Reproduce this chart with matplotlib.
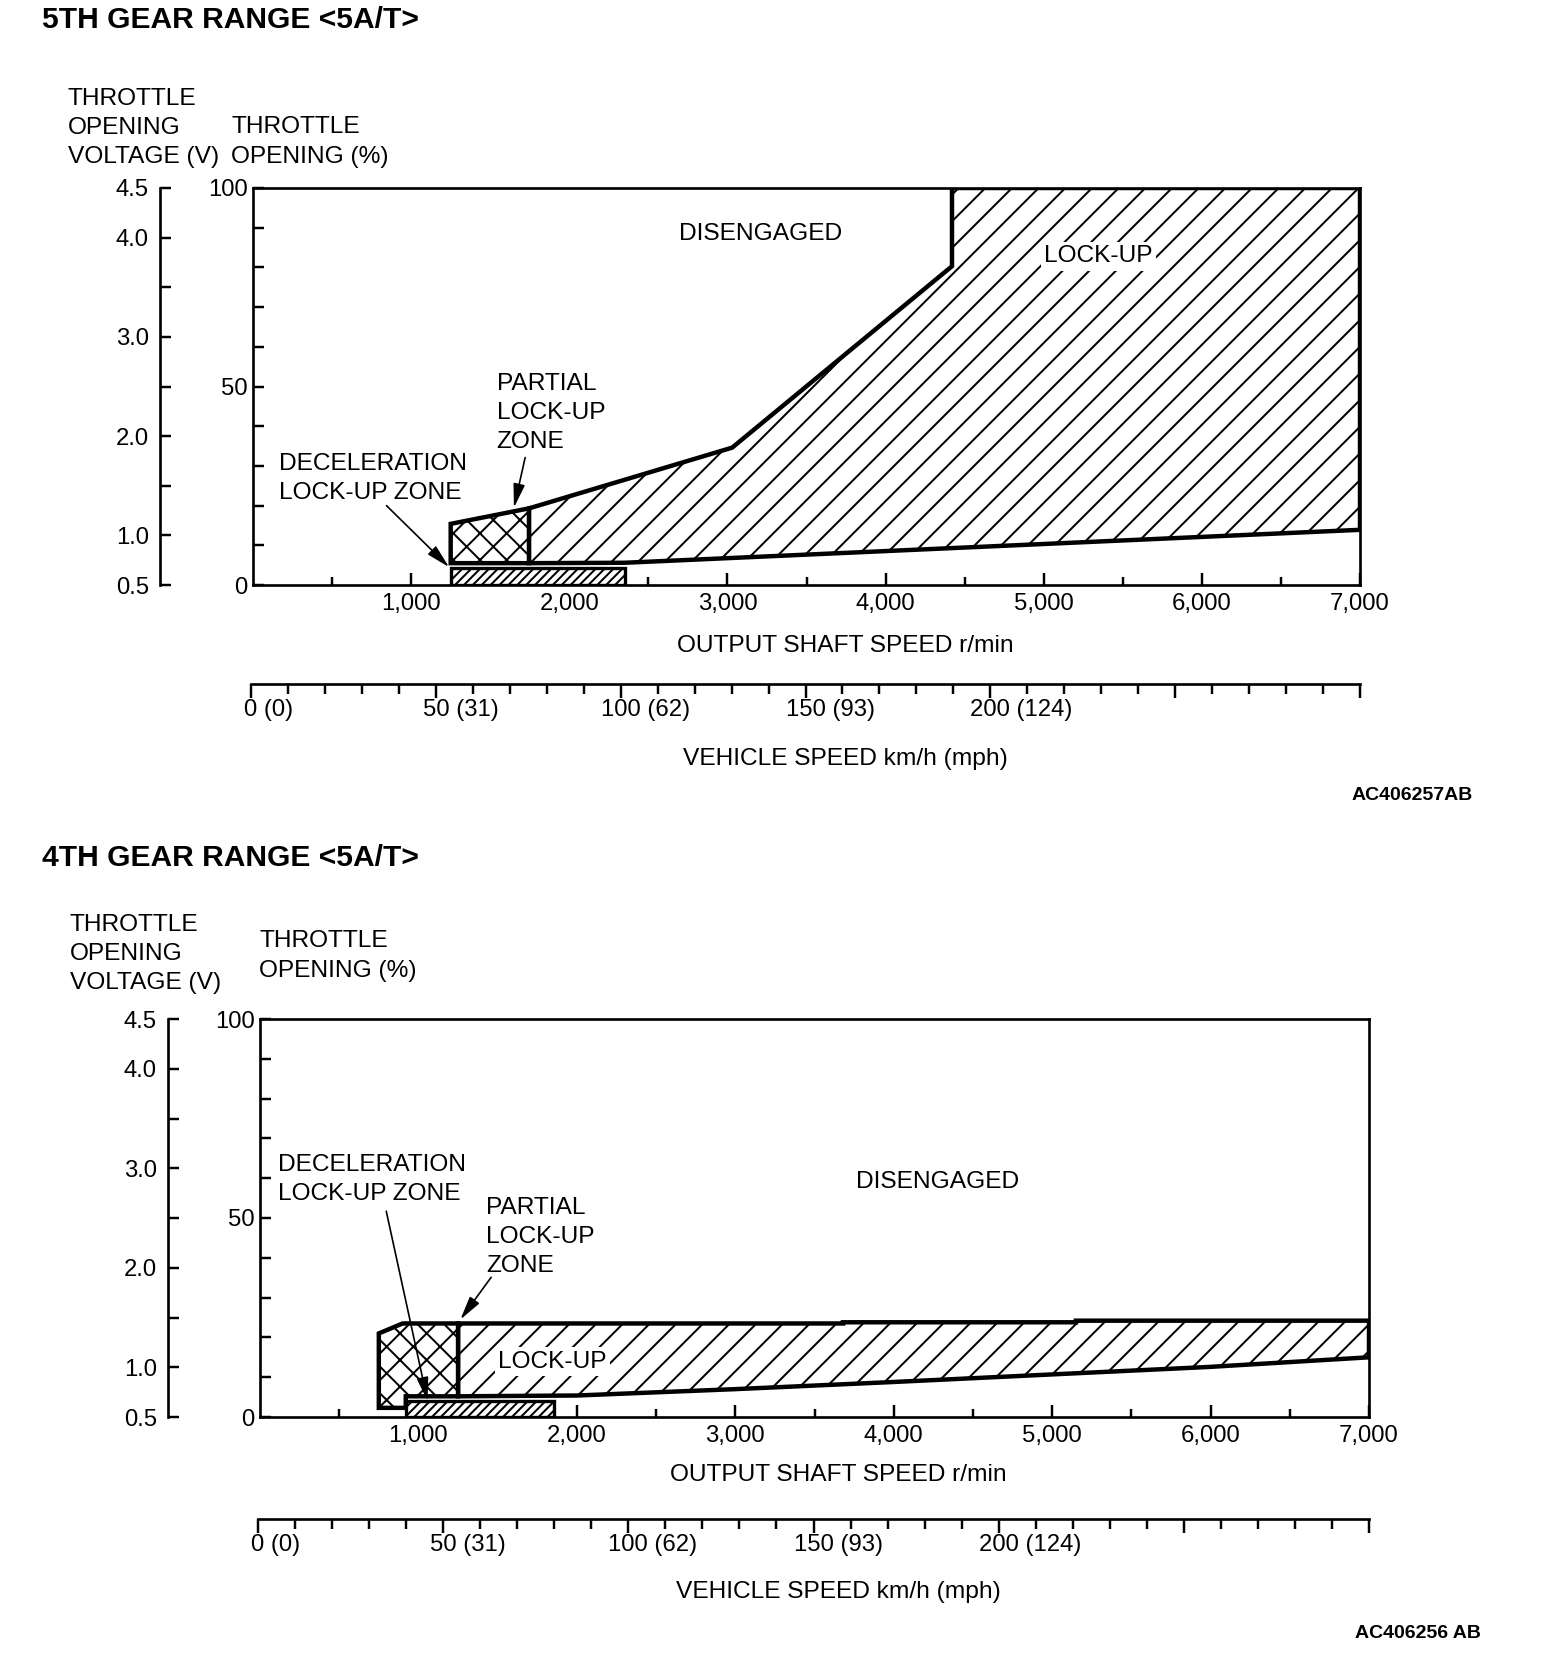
import matplotlib
matplotlib.use('Agg')
import matplotlib.pyplot as plt
from matplotlib.ticker import FixedLocator, FuncFormatter

plt.rcParams['font.family'] = ['Liberation Sans', 'DejaVu Sans']
plt.rcParams['hatch.linewidth'] = 1.8

W, H, DPI = 1568, 1662, 80
FS = 22
LS = 1.42

# ---- data (rpm, throttle %) ----
# 5th gear range
g5_lockup_rpm = [1745, 1745, 3030, 4420, 4420, 7000, 7000, 2350]
g5_lockup_pct = [5.5, 19.3, 34.6, 80.3, 100, 100, 13.9, 5.6]
g5_partial_rpm = [1250, 1250, 1745, 1745]
g5_partial_pct = [5.5, 15.4, 19.3, 5.5]
g5_decel_rpm = [1250, 1250, 2350, 2350]
g5_decel_pct = [0, 4.3, 4.3, 0]

# 4th gear range
g4_lockup_rpm = [1250, 1250, 3680, 3680, 5150, 5150, 7000, 7000, 6000, 5000, 4000, 3000, 2000]
g4_lockup_pct = [5.2, 23.5, 23.5, 23.8, 23.8, 24.2, 24.2, 15.0, 12.6, 10.7, 8.8, 7.0, 5.4]
g4_partial_rpm = [750, 750, 900, 1250, 1250, 920, 920]
g4_partial_pct = [2.3, 21.0, 23.5, 23.5, 5.2, 5.2, 2.3]
g4_decel_rpm = [920, 920, 1855, 1855]
g4_decel_pct = [0, 4.0, 4.0, 0]

# axis values
rpm_major = [1000, 2000, 3000, 4000, 5000, 6000, 7000]
rpm_minor = [500, 1500, 2500, 3500, 4500, 5500, 6500]
pct_major = [0, 50, 100]
pct_minor = [10, 20, 30, 40, 60, 70, 80, 90]
volt_major = [0.5, 1.0, 2.0, 3.0, 4.0, 4.5]
volt_minor = [1.5, 2.5, 3.5]
speed_kmh = [0, 50, 100, 150, 200]
speed_mph = [0, 31, 62, 93, 124]
speed_major = [0, 50, 100, 150, 200, 250, 300]
speed_minor = [v for v in range(10, 300, 10) if v % 50]

fig = plt.figure(figsize=(W / DPI, H / DPI), dpi=DPI)


def add_ax(l, t, r, b):
    return fig.add_axes([l / W, 1 - b / H, (r - l) / W, (b - t) / H])


def ftext(x, y, s, **kw):
    kw.setdefault('fontsize', FS)
    fig.text(x / W, 1 - y / H, s, **kw)


def draw_chart(box, volt_x, speed_y, title, title_y, code, code_xy,
               zones, labels, arrows, ylab_v, ylab_p, xlab, slab):
    l, t, r, b = box
    ax = add_ax(l, t, r, b)
    ax.set_xlim(0, 7000)
    ax.set_ylim(0, 100)
    for s in ax.spines.values():
        s.set_linewidth(2.4)
    ax.xaxis.set_major_locator(FixedLocator(rpm_major))
    ax.xaxis.set_minor_locator(FixedLocator(rpm_minor))
    ax.xaxis.set_major_formatter(FuncFormatter(lambda v, p: f'{int(v):,}'))
    ax.yaxis.set_major_locator(FixedLocator(pct_major))
    ax.yaxis.set_minor_locator(FixedLocator(pct_minor))
    ax.tick_params(which='both', direction='in', width=2.2, labelsize=21.5)
    ax.tick_params(axis='x', which='major', length=11, pad=7)
    ax.tick_params(axis='x', which='minor', length=7)
    ax.tick_params(axis='y', which='both', length=10, pad=5)

    (lr, lp), (pr, pp), (dr, dp) = zones
    ax.fill(lr, lp, facecolor='white', edgecolor='black', hatch='/', lw=4, zorder=2)
    ax.fill(pr, pp, facecolor='white', edgecolor='black', hatch='x', lw=4, zorder=3)
    ax.fill(dr, dp, facecolor='white', edgecolor='black', hatch='///', lw=3, zorder=4)

    for s, x, y, ha, boxed in labels:
        kw = dict(fontsize=FS, ha=ha, va='center', zorder=6, linespacing=LS)
        if boxed:
            kw['bbox'] = dict(facecolor='white', edgecolor='none', pad=3)
        ax.text(x, y, s, **kw)
    for (x0, y0), (x1, y1) in arrows:
        ax.annotate('', xy=(x1, y1), xytext=(x0, y0), zorder=7,
                    arrowprops=dict(arrowstyle='-|>,head_length=0.9,head_width=0.22',
                                    color='black', lw=1.5, mutation_scale=20,
                                    shrinkA=0, shrinkB=0))

    # voltage axis
    av = add_ax(volt_x, t, volt_x + 1, b)
    av.set_ylim(0.5, 4.5)
    av.patch.set_visible(False)
    for k in ['top', 'right', 'bottom']:
        av.spines[k].set_visible(False)
    av.spines['left'].set_linewidth(2.4)
    av.set_xticks([])
    av.yaxis.set_major_locator(FixedLocator(volt_major))
    av.yaxis.set_minor_locator(FixedLocator(volt_minor))
    av.yaxis.set_major_formatter(FuncFormatter(lambda v, p: f'{v:.1f}'))
    av.tick_params(which='both', direction='in', length=10, width=2.2,
                   labelsize=21.5, pad=10)

    # vehicle speed axis
    asp = add_ax(l - 2, speed_y - 1, r, speed_y)
    asp.set_xlim(0, 300)
    asp.patch.set_visible(False)
    for k in ['top', 'right', 'left']:
        asp.spines[k].set_visible(False)
    asp.spines['bottom'].set_linewidth(2.4)
    asp.set_yticks([])
    asp.xaxis.set_major_locator(FixedLocator(speed_major))
    asp.xaxis.set_minor_locator(FixedLocator(speed_minor))
    asp.tick_params(which='both', direction='out', width=2.2, labelbottom=False)
    asp.tick_params(which='major', length=13)
    asp.tick_params(which='minor', length=9)
    for kmh, mph in zip(speed_kmh, speed_mph):
        numw = len(str(kmh)) * 0.556 * 21.5
        asp.annotate(f'{kmh} ({mph})', xy=(kmh, 0), xycoords=('data', 'axes fraction'),
                     xytext=(-numw / 2, -23), textcoords='offset points',
                     ha='left', va='center', fontsize=21.5)

    ftext(42, title_y, title, fontweight='bold', fontsize=27, va='center')
    ftext(code_xy[0], code_xy[1], code, fontweight='bold', fontsize=17.5,
          ha='right', va='center')
    ftext(ylab_v[0], ylab_v[1], 'THROTTLE\nOPENING\nVOLTAGE (V)', va='center',
          linespacing=LS)
    ftext(ylab_p[0], ylab_p[1], 'THROTTLE\nOPENING (%)', va='center', linespacing=LS)
    ftext(xlab[0], xlab[1], 'OUTPUT SHAFT SPEED r/min', ha='center', va='center')
    ftext(slab[0], slab[1], 'VEHICLE SPEED km/h (mph)', ha='center', va='center')


draw_chart(box=(253, 188, 1360, 585), volt_x=160, speed_y=684,
           title='5TH GEAR RANGE <5A/T>', title_y=20,
           code='AC406257AB', code_xy=(1473, 795),
           zones=[(g5_lockup_rpm, g5_lockup_pct), (g5_partial_rpm, g5_partial_pct),
                  (g5_decel_rpm, g5_decel_pct)],
           labels=[('DISENGAGED', 3208, 88.5, 'center', False),
                   ('LOCK-UP', 5345, 82.8, 'center', True),
                   ('PARTIAL\nLOCK-UP\nZONE', 1540, 43.4, 'left', False),
                   ('DECELERATION\nLOCK-UP ZONE', 167, 26.9, 'left', False)],
           arrows=[((844, 20.0), (1240, 4.5)), ((1721, 32.1), (1650, 19.5))],
           ylab_v=(68, 128), ylab_p=(231, 142), xlab=(845, 646), slab=(845, 759))

draw_chart(box=(260, 1019, 1369, 1417), volt_x=168, speed_y=1519,
           title='4TH GEAR RANGE <5A/T>', title_y=858,
           code='AC406256 AB', code_xy=(1481, 1634),
           zones=[(g4_lockup_rpm, g4_lockup_pct), (g4_partial_rpm, g4_partial_pct),
                  (g4_decel_rpm, g4_decel_pct)],
           labels=[('DISENGAGED', 4277, 59.0, 'center', False),
                   ('LOCK-UP', 1847, 13.9, 'center', True),
                   ('PARTIAL\nLOCK-UP\nZONE', 1426, 45.3, 'left', False),
                   ('DECELERATION\nLOCK-UP ZONE', 114, 59.7, 'left', False)],
           arrows=[((797, 51.7), (1058, 4.0)), ((1459, 35.1), (1265, 24.5))],
           ylab_v=(70, 954), ylab_p=(259, 956), xlab=(838, 1475), slab=(838, 1592))

fig.savefig('out.png', dpi=DPI, facecolor='white')
